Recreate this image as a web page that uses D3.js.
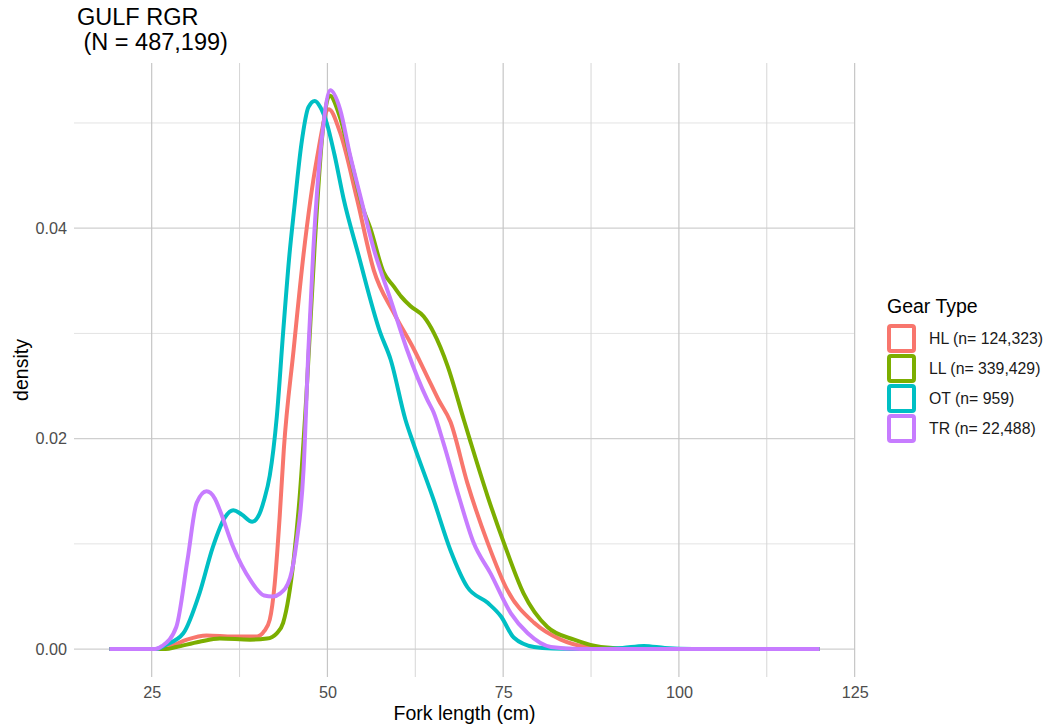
<!DOCTYPE html>
<html><head><meta charset="utf-8">
<script src="https://cdn.jsdelivr.net/npm/d3@7"></script>
<style>
body{margin:0;background:#fff}
text{font-family:"Liberation Sans",Arial,Helvetica,sans-serif}
</style>
</head><body>
<svg id="chart" width="1046" height="725"></svg>
<script>
// ---------- data ----------
const titleLines = ["GULF RGR", " (N = 487,199)"];
const legendTitle = "Gear Type";
const categories = ["HL (n= 124,323)", "LL (n= 339,429)", "OT (n= 959)", "TR (n= 22,488)"];
const seriesColors = ["#F8766D", "#7CAE00", "#00BFC4", "#C77CFF"];
const xTicks = [25, 50, 75, 100, 125];
const xMinor = [37.5, 62.5, 87.5, 112.5];
const yTicks = [0, 0.02, 0.04];
const yMinor = [0.01, 0.03, 0.05];

const hlX = [19, 26, 27.5, 30, 32.8, 36.6, 40, 41, 41.8, 42.5, 43.2, 43.8, 45.2, 46.6, 48.5, 50.2, 51.8, 54.2, 56.6, 59.4, 62.3, 64.2, 65.8, 67.5, 69.9, 72.8, 75.6, 79.4, 83.2, 87, 92, 120];
const hlY = [0, 0, 0.0002, 0.0009, 0.0013, 0.0012, 0.0012, 0.0017, 0.0028, 0.0062, 0.0125, 0.0190, 0.0285, 0.0375, 0.0466, 0.0513, 0.0491, 0.0428, 0.0360, 0.0320, 0.0285, 0.0259, 0.0237, 0.0216, 0.0158, 0.0101, 0.0056, 0.0025, 0.0009, 0.0002, 0, 0];

const llX = [19, 27, 28.5, 31.8, 34.7, 39, 41.4, 42.8, 43.7, 44.5, 45.2, 46.1, 47, 48.2, 49.3, 50.3, 51.8, 53.5, 55.1, 56.1, 58.0, 59.4, 60.5, 61.8, 63.7, 65.1, 67.1, 69.4, 70.4, 72.8, 75.1, 77.9, 81.3, 85.1, 88.9, 94, 120];
const llY = [0, 0, 0.0002, 0.0007, 0.0010, 0.0009, 0.0010, 0.0015, 0.0025, 0.0050, 0.0085, 0.0149, 0.0240, 0.0385, 0.0490, 0.0526, 0.0505, 0.0460, 0.0418, 0.0400, 0.0358, 0.0345, 0.0335, 0.0326, 0.0316, 0.0301, 0.0269, 0.0218, 0.0196, 0.0145, 0.0101, 0.0053, 0.0021, 0.0009, 0.0002, 0, 0];

const otX = [19, 25.5, 27, 29.5, 31.8, 33.7, 35.4, 36.6, 37.8, 39.3, 40.3, 41.0, 41.8, 42.8, 43.7, 44.6, 45.3, 46.3, 47.3, 48.2, 49.0, 49.9, 51, 52.3, 54.4, 57.5, 59.0, 61.1, 62.2, 65.1, 67.5, 69.9, 72.8, 74.7, 76.5, 79.4, 82, 88, 92, 95, 98, 102, 120];
const otY = [0, 0, 0.0004, 0.0015, 0.0053, 0.0097, 0.0125, 0.0132, 0.0128, 0.0121, 0.0128, 0.0142, 0.0165, 0.0221, 0.0301, 0.0375, 0.0420, 0.0480, 0.0515, 0.0521, 0.0515, 0.0500, 0.0470, 0.0428, 0.0375, 0.0301, 0.0275, 0.0218, 0.0196, 0.0142, 0.0094, 0.0059, 0.0044, 0.0031, 0.0011, 0.0002, 0.00005, 0, 0.0001, 0.0003, 0.0001, 0, 0];

const trX = [19, 25.5, 26.5, 28.5, 30.1, 31.4, 32.8, 34.0, 34.7, 36.6, 39.0, 41.0, 42.2, 43.3, 44.7, 45.6, 46.6, 47.3, 48.0, 49.4, 50.4, 51.8, 53.2, 54.7, 56.6, 59.0, 61.3, 64.2, 65.1, 66.5, 68.7, 70.8, 73.2, 76.1, 78.5, 81.8, 86, 120];
const trY = [0, 0, 0.0003, 0.0021, 0.0085, 0.0139, 0.0150, 0.0143, 0.0132, 0.0097, 0.0066, 0.0051, 0.0050, 0.0053, 0.0068, 0.0101, 0.0170, 0.0285, 0.0380, 0.0497, 0.0531, 0.0513, 0.0470, 0.0430, 0.0380, 0.0332, 0.0285, 0.0237, 0.0225, 0.0196, 0.0145, 0.0101, 0.0072, 0.0034, 0.0015, 0.0002, 0, 0];

const seriesX = [hlX, llX, otX, trX];
const seriesY = [hlY, llY, otY, trY];

// ---------- drawing ----------
const svg = d3.select("#chart");
const panel = {left: 74, right: 855, top: 63, bottom: 677};
const FONT = '"Liberation Sans",Arial,sans-serif';

const x = d3.scaleLinear().domain([13.95, 125.05]).range([panel.left, panel.right]);
const y = d3.scaleLinear().domain([-0.00265, 0.0557]).range([panel.bottom, panel.top]);

const grid = svg.append("g");
grid.selectAll(".hmin").data(yMinor).join("line")
  .attr("x1", panel.left).attr("x2", panel.right)
  .attr("y1", d => y(d)).attr("y2", d => y(d))
  .attr("stroke", "#e3e3e3").attr("stroke-width", 1);
grid.selectAll(".vmin").data(xMinor).join("line")
  .attr("y1", panel.top).attr("y2", panel.bottom)
  .attr("x1", d => x(d)).attr("x2", d => x(d))
  .attr("stroke", "#d6d6d6").attr("stroke-width", 1);
grid.selectAll(".hmaj").data(yTicks).join("line")
  .attr("x1", panel.left).attr("x2", panel.right)
  .attr("y1", d => y(d)).attr("y2", d => y(d))
  .attr("stroke", "#cfcfcf").attr("stroke-width", 1.2);
grid.selectAll(".vmaj").data(xTicks).join("line")
  .attr("y1", panel.top).attr("y2", panel.bottom)
  .attr("x1", d => x(d)).attr("x2", d => x(d))
  .attr("stroke", "#c6c6c6").attr("stroke-width", 1.2);

// axes (labels only)
const xAxis = svg.append("g").attr("transform", `translate(0,${panel.bottom})`)
  .call(d3.axisBottom(x).tickValues(xTicks).tickSize(0).tickPadding(9).tickFormat(d3.format("d")));
xAxis.select(".domain").remove();
xAxis.selectAll("text").attr("fill", "#4d4d4d").attr("font-size", 16.2).attr("font-family", FONT);

const yAxis = svg.append("g").attr("transform", `translate(${panel.left - 7},0)`)
  .call(d3.axisLeft(y).tickValues(yTicks).tickSize(0).tickPadding(0).tickFormat(d3.format(".2f")));
yAxis.select(".domain").remove();
yAxis.selectAll("text").attr("fill", "#4d4d4d").attr("font-size", 16.2).attr("font-family", FONT);

// lines
const line = d3.line().curve(d3.curveMonotoneX).x(d => x(d[0])).y(d => y(d[1]));
categories.forEach((c, i) => {
  const pts = seriesX[i].map((v, j) => [v, seriesY[i][j]]);
  svg.append("path").datum(pts)
    .attr("d", line)
    .attr("fill", "none")
    .attr("stroke", seriesColors[i])
    .attr("stroke-width", 4)
    .attr("stroke-linejoin", "round")
    .attr("stroke-linecap", "butt");
});

// titles (two separate lines)
svg.append("text").attr("x", 77).attr("y", 24.5).attr("font-size", 23.5).attr("fill", "#000")
  .text(titleLines[0]);
svg.append("text").attr("x", 77).attr("y", 50).attr("font-size", 23.5).attr("fill", "#000")
  .style("white-space", "pre").text(titleLines[1]);

svg.append("text").attr("x", (panel.left + panel.right) / 2).attr("y", 720)
  .attr("text-anchor", "middle").attr("font-size", 19.5).attr("fill", "#000")
  .text("Fork length (cm)");
svg.append("text").attr("transform", `translate(28,${(panel.top + panel.bottom) / 2}) rotate(-90)`)
  .attr("text-anchor", "middle").attr("font-size", 19.5).attr("fill", "#000")
  .text("density");

// legend
const lg = svg.append("g");
lg.append("text").attr("x", 887).attr("y", 313).attr("font-size", 19.5).attr("fill", "#000").text(legendTitle);
const keys = lg.selectAll(".k").data(categories).join("g")
  .attr("transform", (d, i) => `translate(887,${324 + i * 30})`);
keys.append("rect").attr("x", 2).attr("y", 2).attr("width", 25).attr("height", 25)
  .attr("rx", 2).attr("fill", "#fff")
  .attr("stroke", (d, i) => seriesColors[i]).attr("stroke-width", 4);
keys.append("text").attr("x", 42).attr("y", 20).attr("font-size", 15.8).attr("fill", "#1a1a1a")
  .text(d => d);
</script>
</body></html>
